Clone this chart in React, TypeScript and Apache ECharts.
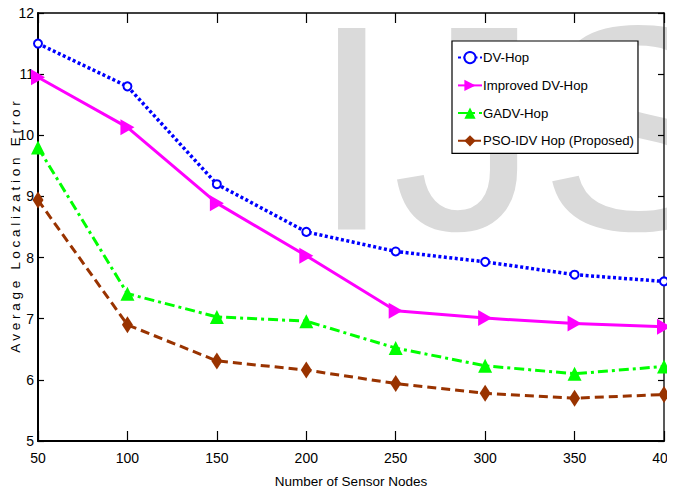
import React, { useEffect, useRef } from "react";
import * as echarts from "echarts";

const nodes = [50, 100, 150, 200, 250, 300, 350, 400];
const dvHop = [11.5, 10.8, 9.2, 8.42, 8.1, 7.93, 7.72, 7.61];
const improvedDvHop = [10.95, 10.13, 8.89, 8.03, 7.13, 7.01, 6.92, 6.87];
const gadvHop = [9.8, 7.41, 7.03, 6.96, 6.52, 6.23, 6.1, 6.22];
const psoIdvHop = [8.94, 6.9, 6.31, 6.16, 5.94, 5.78, 5.7, 5.76];
const seriesNames = ["DV-Hop", "Improved DV-Hop", "GADV-Hop", "PSO-IDV Hop (Proposed)"];
const xName = "Number of Sensor Nodes";
const yName = "A v e r a g e   L o c a l i z a t i o n   E r r o r";
const watermark = "IJS";

const FONT = '"Liberation Sans", Arial, sans-serif';

const pairs = (ys: number[]) => nodes.map((x, i) => [x, ys[i]]);

export default function App() {
  const ref = useRef<HTMLDivElement>(null);
  useEffect(() => {
    if (!ref.current) return;
    const chart = echarts.init(ref.current, undefined, { renderer: "svg" });
    const axisCommon = {
      type: "value" as const,
      splitLine: { show: false },
      nameMoveOverlap: false,
      axisLine: { show: true, lineStyle: { color: "#000", width: 2 } },
      axisLabel: { color: "#000", fontSize: 14, fontFamily: FONT },
      nameTextStyle: { color: "#000", fontSize: 13.5, fontFamily: FONT },
    };
    chart.setOption({
      animation: false,
      backgroundColor: "#fff",
      textStyle: { fontFamily: FONT },
      graphic: [
        {
          type: "text",
          x: 311,
          y: 128,
          z: 0,
          silent: true,
          style: {
            text: watermark,
            font: '293px "Liberation Sans", Arial, sans-serif',
            fill: "#dadada",
            verticalAlign: "middle",
            align: "left",
          },
        },
      ],
      grid: { left: 38, right: 11, top: 13, bottom: 53, containLabel: false, outerBoundsMode: "none" },
      legend: {
        orient: "vertical",
        left: 452,
        top: 41,
        itemWidth: 24,
        itemHeight: 14,
        itemGap: 14.7,
        padding: [10, 4, 6, 5],
        borderColor: "#000",
        borderWidth: 1.2,
        backgroundColor: "#fff",
        textStyle: { color: "#000", fontSize: 13.2, fontFamily: FONT, padding: [0, 0, 0, -4] },
        data: seriesNames,
      },
      xAxis: [
        {
          ...axisCommon,
          position: "bottom",
          min: 50,
          max: 400,
          interval: 50,
          axisTick: { show: true, inside: true, length: 10, lineStyle: { color: "#000", width: 1.2 } },
          axisLabel: { ...axisCommon.axisLabel, margin: 10 },
          name: xName,
          nameLocation: "middle",
          nameGap: 33,
        },
        {
          ...axisCommon,
          position: "top",
          min: 50,
          max: 400,
          interval: 50,
          axisLine: { show: true, lineStyle: { color: "#000", width: 1.5 } },
          axisTick: { show: true, inside: true, length: 10, lineStyle: { color: "#000", width: 1.2 } },
          axisLabel: { show: false },
        },
      ],
      yAxis: [
        {
          ...axisCommon,
          position: "left",
          min: 5,
          max: 12,
          interval: 1,
          axisTick: { show: true, inside: true, length: 6, lineStyle: { color: "#000", width: 1.2 } },
          axisLabel: { ...axisCommon.axisLabel, margin: 4 },
          name: yName,
          nameLocation: "middle",
          nameGap: 16,
          nameTextStyle: { ...axisCommon.nameTextStyle, fontSize: 13.5 },
        },
        {
          ...axisCommon,
          position: "right",
          min: 5,
          max: 12,
          interval: 1,
          axisLine: { show: true, lineStyle: { color: "#222", width: 1.5 } },
          axisTick: { show: true, inside: true, length: 6, lineStyle: { color: "#000", width: 1.2 } },
          axisLabel: { show: false },
        },
      ],
      series: [
        {
          name: seriesNames[0],
          type: "line",
          data: pairs(dvHop),
          color: "#0000ff",
          lineStyle: { color: "#0000ff", width: 3.5, type: [3, 2.5] },
          symbol: "emptyCircle",
          symbolSize: 8,
          itemStyle: { color: "#0000ff", borderColor: "#0000ff", borderWidth: 3.5 },
          z: 5,
        },
        {
          name: seriesNames[1],
          type: "line",
          data: pairs(improvedDvHop),
          color: "#ff00ff",
          lineStyle: { color: "#ff00ff", width: 3 },
          symbol: "triangle",
          symbolRotate: -90,
          symbolSize: [16, 14],
          itemStyle: { color: "#ff00ff" },
          z: 4,
        },
        {
          name: seriesNames[2],
          type: "line",
          data: pairs(gadvHop),
          color: "#00ff00",
          lineStyle: { color: "#00ff00", width: 3, type: [10, 4, 3, 4] },
          symbol: "triangle",
          symbolSize: [14, 14],
          itemStyle: { color: "#00ff00" },
          z: 3,
        },
        {
          name: seriesNames[3],
          type: "line",
          data: pairs(psoIdvHop),
          color: "#993300",
          lineStyle: { color: "#993300", width: 3, type: [9, 5] },
          symbol: "diamond",
          symbolSize: [11, 17],
          itemStyle: { color: "#993300" },
          z: 2,
        },
      ],
    });
    return () => chart.dispose();
  }, []);
  return <div ref={ref} style={{ width: 675, height: 494, margin: -8 }} />;
}
